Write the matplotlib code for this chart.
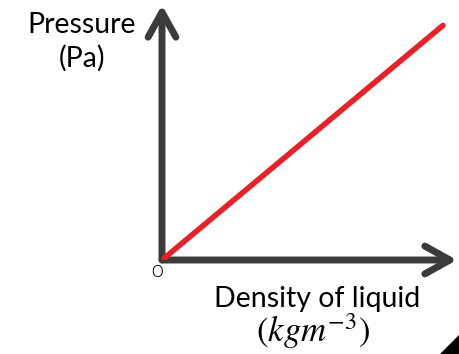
import matplotlib
matplotlib.use('Agg')
import matplotlib.pyplot as plt
from matplotlib.patches import Polygon

# data: straight line through origin (pressure proportional to density)
density = [0, 10]
pressure = [0, 10]

W, H = 459, 354
fig = plt.figure(figsize=(W / 100, H / 100), dpi=100)

# axes placed so the origin sits at pixel (162, 260)
ox, oy = 162, 260
ax = fig.add_axes([ox / W, (H - oy) / H, (457 - ox) / W, (oy - 5) / H])
ax.set_xlim(0, 10.5)
ax.set_ylim(0, 10.87)
ax.axis('off')

axis_col = '#3b3b3b'
arrow = dict(arrowstyle='->,head_length=0.9,head_width=0.5', lw=5, mutation_scale=20,
             color=axis_col, shrinkA=0, shrinkB=0, joinstyle='round', capstyle='round')
ax.annotate('', xy=(0, 1), xytext=(0, 0), xycoords='axes fraction', arrowprops=arrow)
ax.annotate('', xy=(1, 0), xytext=(0, 0), xycoords='axes fraction', arrowprops=arrow)

ax.plot(density, pressure, color='#e8202a', lw=4, solid_capstyle='round', zorder=3)

# labels
fnt = 'Lato'
fs = 20.5
fig.text(82 / W, 1 - 33 / H, 'Pressure', ha='center', va='baseline', fontsize=fs, family=fnt)
fig.text(82 / W, 1 - 67 / H, '(Pa)', ha='center', va='baseline', fontsize=fs, family=fnt)
fig.text(317 / W, 1 - 307 / H, 'Density of liquid', ha='center', va='baseline', fontsize=fs, family=fnt)
fig.text(313 / W, 1 - 342 / H, r'$\mathrm{(}kgm^{-3}\mathrm{)}$', ha='center', va='baseline',
         fontsize=25, math_fontfamily='stix')
fig.text(157 / W, 1 - 277 / H, 'o', ha='center', va='baseline', fontsize=16,
         family='DejaVu Sans', fontweight='light')

# small black corner triangle
fig.patches.append(Polygon([(440 / W, 0), (1, 0), (1, 19 / H)], closed=True,
                           transform=fig.transFigure, color='black'))

fig.savefig('out.png', dpi=100)
